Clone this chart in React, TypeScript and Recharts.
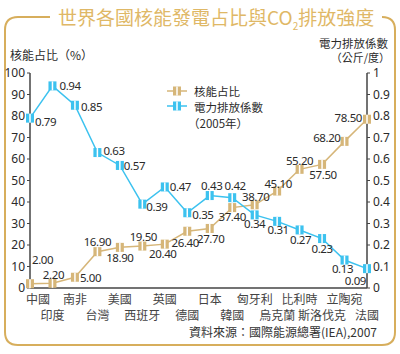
import React from "react";
import { LineChart, Line, XAxis, YAxis, LabelList } from "recharts";

const countries = [
  "中國", "印度", "南非", "台灣", "美國", "西班牙", "英國", "德國",
  "日本", "韓國", "匈牙利", "烏克蘭", "比利時", "斯洛伐克", "立陶宛", "法國",
];
const nuclearShare = [2.0, 2.2, 5.0, 16.9, 18.9, 19.5, 20.4, 26.4, 27.7, 37.4, 38.7, 45.1, 55.2, 57.5, 68.2, 78.5];
const emissionFactor = [0.79, 0.94, 0.85, 0.63, 0.57, 0.39, 0.47, 0.35, 0.43, 0.42, 0.34, 0.31, 0.27, 0.23, 0.13, 0.09];
const leftTicks = [0, 10, 20, 30, 40, 50, 60, 70, 80, 90, 100];
const rightTicks = [0, 0.1, 0.2, 0.3, 0.4, 0.5, 0.6, 0.7, 0.8, 0.9, 1];

const GOLD = "#d6b679";
const BLUE = "#3cc2ef";
const FRAME = "#d7ae5c";
const TEXT = "#2a2a2a";
const FONT = '"Noto Sans", "Noto Sans CJK TC", sans-serif';
const CJK = '"Noto Sans CJK TC", sans-serif';

const data = countries.map((name, i) => ({
  name,
  nuclear: nuclearShare[i],
  emission: emissionFactor[i],
}));

// label placement per point: [dx, dy, anchor]
type Place = [number, number, "start" | "middle" | "end"];
const goldPlace: Place[] = [
  [2, -24, "start"], [1, -9, "middle"], [5, 0, "start"], [0, -10, "middle"],
  [0, 10, "middle"], [1, -10, "middle"], [-2, 9, "middle"], [-2, 11, "middle"],
  [1, 10, "middle"], [0, 9, "middle"], [1, -8, "middle"], [1, -8, "middle"],
  [0, -9, "middle"], [1, 10, "middle"], [-4, -4, "end"], [-5, -2, "end"],
];
const bluePlace: Place[] = [
  [5, 3, "start"], [7, 0, "start"], [6, 1, "start"], [6, -2, "start"],
  [4, 0, "start"], [4, 2, "start"], [5, 0, "start"], [5, 2, "start"],
  [2, -10, "middle"], [3, -12, "middle"], [0, 9, "middle"], [1, 8, "middle"],
  [1, 10, "middle"], [0, 10, "middle"], [-2, 8, "middle"], [-1, 12, "end"],
];

const makeLabel = (places: Place[]) => (props: any) => {
  const { x, y, value, index } = props;
  const [dx, dy, anchor] = places[index] ?? [0, -10, "middle"];
  return (
    <text
      x={x + dx}
      y={y + dy}
      textAnchor={anchor}
      dominantBaseline="central"
      fontSize={11.5}
      letterSpacing={-0.4}
      fontFamily={FONT}
      fill={TEXT}
    >
      {Number(value).toFixed(2)}
    </text>
  );
};

const makeDot = (color: string) => (props: any) => {
  const { cx, cy, index } = props;
  if (cx == null || cy == null) return <g key={index} />;
  return (
    <g key={index}>
      <rect x={cx - 4} y={cy - 4.5} width={8} height={9} fill={color} />
      <rect x={cx - 0.75} y={cy - 4.5} width={1.5} height={9} fill="#fff" />
    </g>
  );
};

const CountryTick = (props: any) => {
  const { x, y, payload, index } = props;
  const row = index % 2;
  const shift = index === 0 ? 8 : 0;
  return (
    <text
      x={x + shift}
      y={y + (row === 0 ? 10 : 26)}
      textAnchor="middle"
      dominantBaseline="central"
      fontSize={12}
      fontFamily={CJK}
      fill="#444"
    >
      {payload.value}
    </text>
  );
};

const LegendMark = ({ x, y, color }: { x: number; y: number; color: string }) => (
  <g>
    <line x1={x - 10} x2={x + 10} y1={y} y2={y} stroke={color} strokeWidth={1.5} />
    <rect x={x - 4} y={y - 4.5} width={8} height={9} fill={color} />
    <rect x={x - 0.75} y={y - 4.5} width={1.5} height={9} fill="#fff" />
  </g>
);

export default function App() {
  return (
    <div style={{ position: "absolute", left: 0, top: 0, width: 400, height: 354, background: "#fff" }}>
      <svg width={400} height={354} style={{ position: "absolute", left: 0, top: 0 }}>
        <path
          d="M 382 17 Q 395 17 395 30 L 395 332 Q 395 345 382 345 L 18 345 Q 5 345 5 332 L 5 30 Q 5 17 18 17 L 50 17"
          fill="none"
          stroke={FRAME}
          strokeWidth={2}
        />
        <text x={58} y={25} fontSize={19} fontFamily={CJK} fill="#dfb866">
          世界各國核能發電占比與CO
          <tspan fontSize={10} dy={5}>2</tspan>
          <tspan fontSize={19} dy={-5}>排放強度</tspan>
        </text>
        <text x={10} y={54} dominantBaseline="central" fontSize={12} fontFamily={CJK} fill={TEXT}>
          核能占比（%）
        </text>
        <text x={388} y={43} textAnchor="end" dominantBaseline="central" fontSize={11.5} fontFamily={CJK} fill={TEXT}>
          電力排放係數
        </text>
        <text x={390} y={57} textAnchor="end" dominantBaseline="central" fontSize={11} fontFamily={CJK} fill={TEXT}>
          （公斤/度）
        </text>
        <LegendMark x={177} y={91} color={GOLD} />
        <LegendMark x={177} y={106} color={BLUE} />
        <text x={194} y={91} dominantBaseline="central" fontSize={11.5} fontFamily={CJK} fill={TEXT}>
          核能占比
        </text>
        <text x={194} y={107} dominantBaseline="central" fontSize={11.5} fontFamily={CJK} fill={TEXT}>
          電力排放係數
        </text>
        <text x={188} y={123} dominantBaseline="central" fontSize={11.5} fontFamily={CJK} fill={TEXT}>
          （2005年）
        </text>
        <text x={377} y={331} textAnchor="end" dominantBaseline="central" fontSize={12} fontFamily={CJK} fill="#333">
          資料來源：國際能源總署(IEA),2007
        </text>
      </svg>
      <div style={{ position: "absolute", left: 0, top: 0 }}>
        <LineChart
          width={400}
          height={354}
          data={data}
          margin={{ top: 73, right: 5, left: 5, bottom: 26 }}
        >
          <XAxis
            dataKey="name"
            interval={0}
            tickSize={0}
            tickMargin={0}
            tick={<CountryTick />}
            height={40}
            axisLine={{ stroke: "#444", strokeWidth: 1.5 }}
            tickLine={false}
          />
          <YAxis
            yAxisId="left"
            domain={[0, 100]}
            ticks={leftTicks}
            width={25}
            tickSize={3}
            tickMargin={2}
            interval={0}
            axisLine={{ stroke: "#444", strokeWidth: 1.5 }}
            tickLine={{ stroke: "#444" }}
            tick={{ fontSize: 12, fontFamily: FONT, fill: TEXT }}
          />
          <YAxis
            yAxisId="right"
            orientation="right"
            domain={[0, 1]}
            ticks={rightTicks}
            width={28}
            tickSize={3}
            tickMargin={3}
            interval={0}
            tickFormatter={(v: number) => String(Math.round(v * 10) / 10)}
            axisLine={{ stroke: "#444", strokeWidth: 1.5 }}
            tickLine={{ stroke: "#444" }}
            tick={{ fontSize: 12, fontFamily: FONT, fill: TEXT }}
          />
          <Line
            yAxisId="left"
            type="linear"
            dataKey="nuclear"
            stroke={GOLD}
            strokeWidth={1.5}
            dot={makeDot(GOLD)}
            activeDot={false}
            isAnimationActive={false}
          >
            <LabelList dataKey="nuclear" content={makeLabel(goldPlace)} />
          </Line>
          <Line
            yAxisId="right"
            type="linear"
            dataKey="emission"
            stroke={BLUE}
            strokeWidth={1.5}
            dot={makeDot(BLUE)}
            activeDot={false}
            isAnimationActive={false}
          >
            <LabelList dataKey="emission" content={makeLabel(bluePlace)} />
          </Line>
        </LineChart>
      </div>
    </div>
  );
}
